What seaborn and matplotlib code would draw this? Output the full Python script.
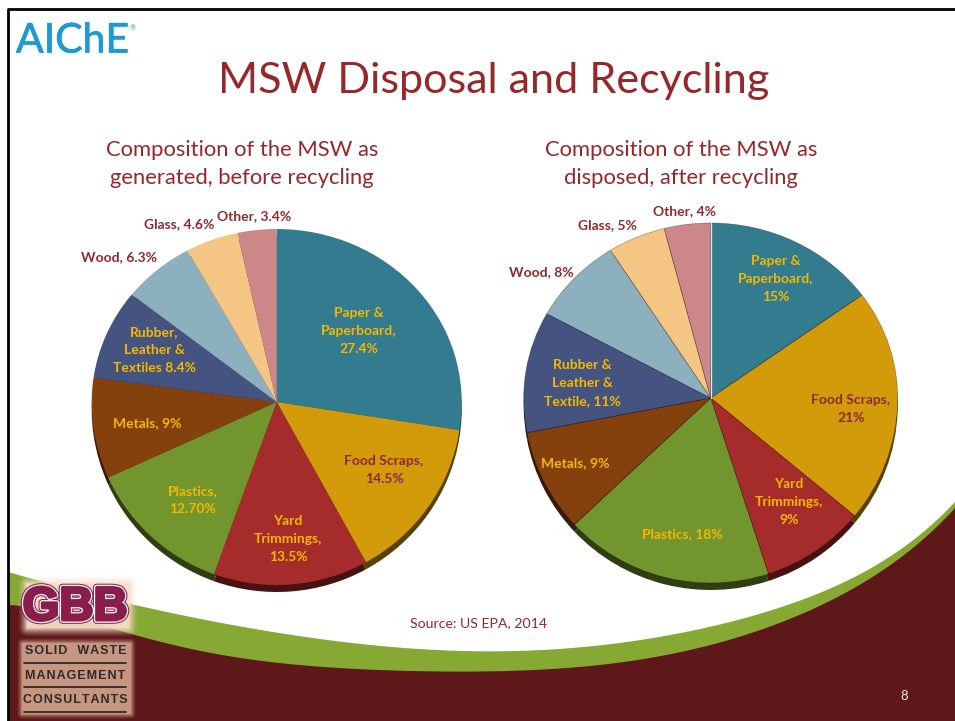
import numpy as np
import matplotlib
matplotlib.use("Agg")
import matplotlib.pyplot as plt
import matplotlib.patheffects as pe
from matplotlib.patches import Polygon
import seaborn as sns

# ---- data ----
categories = ["Paper", "Food Scraps", "Yard Trimmings", "Plastics", "Metals",
              "Rubber", "Wood", "Glass", "Other"]
before_values = [27.4, 14.5, 13.5, 12.7, 9.0, 8.4, 6.3, 4.6, 3.4]
after_values = [15, 21, 9, 18, 9, 11, 8, 5, 4]
before_labels = ["Paper &\nPaperboard,\n27.4%", "Food Scraps,\n14.5%", "Yard\nTrimmings,\n13.5%",
                 "Plastics,\n12.70%", "Metals, 9%", "Rubber,\nLeather &\nTextiles 8.4%",
                 "Wood, 6.3%", "Glass, 4.6%", "Other, 3.4%"]
after_labels = ["Paper &\nPaperboard,\n15%", "Food Scraps,\n21%", "Yard\nTrimmings,\n9%",
                "Plastics, 18%", "Metals, 9%", "Rubber &\nLeather &\nTextile, 11%",
                "Wood, 8%", "Glass, 5%", "Other, 4%"]
before_label_xy = [(359, 331), (384, 470), (288, 539), (193, 500), (147, 423), (154, 350),
                   (119, 257), (179, 224), (254, 216)]
after_label_xy = [(776, 279), (851, 409), (789, 502), (682, 534), (575, 463), (582, 383),
                  (541, 272), (607, 225), (684, 211)]
gold_or_red = ["gold", "red", "gold", "gold", "gold", "gold", "red", "red", "red"]

pal = sns.color_palette(["#337B8F", "#D39B0A", "#A62B2B", "#72952E", "#84410E",
                         "#44537F", "#8CB0BE", "#F4C583", "#CC8789"])
shadow_pal = [tuple(c * 0.42 for c in col) for col in pal]
RED = "#96272B"
GOLD = "#F4B800"
W, H = 955, 721
FONT = ["Lato", "DejaVu Sans"]

sns.set_theme(style="white")
plt.rcParams["font.family"] = FONT
fig = plt.figure(figsize=(W / 100, H / 100), dpi=100, facecolor="white")

# ---- slide background ----
bg = fig.add_axes([0, 0, 1, 1], zorder=0)
bg.axis("off")


def curve(points, deg=7):
    p = np.array(points, float)
    coef = np.polyfit((p[:, 0] - 480) / 480, p[:, 1], deg)
    x = np.arange(p[0, 0], p[-1, 0] + 1)
    return np.c_[x, np.polyval(coef, (x - 480) / 480)]


green_top = curve([(8, 572), (135, 605), (280, 633), (400, 648), (480, 651), (570, 648),
                   (655, 638), (738, 620), (805, 598), (860, 575), (902, 548), (955, 502)])
dark_top = curve([(8, 605), (135, 635), (280, 663), (380, 670), (480, 672), (570, 667),
                  (655, 657), (722, 643), (788, 619), (837, 597), (902, 557), (955, 508)])
bg.add_patch(Polygon(np.r_[green_top, [[955, 721], [8, 721]]], fc="#86A934", ec="none", zorder=1))
bg.add_patch(Polygon(np.r_[dark_top, [[955, 721], [8, 721]]], fc="#5F1819", ec="none", zorder=2))
bg.plot([7.5, 7.5, 955], [721, 8.5, 8.5], color="black", lw=2, zorder=3, solid_capstyle="butt")


def glow(x0, y0, x1, y1, color, blur, peak):
    """Soft-edged panel behind the logo."""
    xs, ys = np.arange(x0 - blur, x1 + blur), np.arange(y0 - blur, y1 + blur)
    dx = np.maximum(np.maximum(x0 - xs, xs - x1), 0)
    dy = np.maximum(np.maximum(y0 - ys, ys - y1), 0)
    a = np.clip(1 - np.hypot(*np.meshgrid(dx, dy)) / blur, 0, 1) ** 1.5 * peak
    img = np.zeros(a.shape + (4,))
    img[..., :3] = matplotlib.colors.to_rgb(color)
    img[..., 3] = a
    bg.imshow(img, extent=(xs[0], xs[-1], ys[-1], ys[0]), zorder=4, aspect="auto",
              interpolation="bilinear")


glow(27, 584, 128, 628, "#F8DCC6", 10, 0.95)
glow(22, 643, 130, 714, "#C69680", 6, 1.0)
bg.set_xlim(0, W)
bg.set_ylim(H, 0)

for lab_y, line_y, s in [(651, 662.5, "SOLID  WASTE"), (676, 687, "MANAGEMENT"), (700, 712, "CONSULTANTS")]:
    bg.text(75.5, lab_y, "\u200a".join(s), ha="center", va="center", fontsize=9, fontweight="bold",
            family=["Liberation Sans", "DejaVu Sans"], color="#2E2A2C", zorder=6)
    bg.plot([24, 126], [line_y, line_y], color="#2E2A2C", lw=1.3, zorder=6)
bg.text(75, 608, "GBB", ha="center", va="center", fontsize=34, fontweight="bold",
        family="Liberation Sans", color="#8B1D4B", zorder=6,
        path_effects=[pe.Stroke(linewidth=5.5, foreground="#8B1D4B"),
                      pe.Stroke(linewidth=4, foreground="white"),
                      pe.Stroke(linewidth=2.2, foreground="#8B1D4B"),
                      pe.Normal()])


# ---- pies ----
def draw_pie(values, cx, cy, rx, top, bottom, edge, drop):
    """Pie with apex at (cx, cy), horizontal radius rx, rim at pixel rows top/bottom."""
    ax = fig.add_axes([(cx - rx - 2) / W, 1 - (bottom + drop + 5) / H,
                       (2 * rx + 4) / W, (bottom + drop + 5 - top + 5) / H], zorder=1)
    ax.patch.set_alpha(0)
    for colors, off, props in [(shadow_pal, drop, dict(linewidth=0)),
                               (pal, 0, dict(linewidth=0.5 if edge else 0,
                                             edgecolor=(0, 0, 0, .35) if edge else "none"))]:
        wedges, _ = ax.pie(values, colors=colors, startangle=90, counterclock=False,
                           radius=rx, wedgeprops=props)
        for w in wedges:
            v = w.get_path().vertices
            v[:, 1] = np.where(v[:, 1] > 0, v[:, 1] * (cy - top) / rx,
                               v[:, 1] * (bottom - cy) / rx) - off
    if edge:
        ax.plot([0, 0], [0, cy - top], color="#E8E4E0", lw=0.9)
    ax.set_aspect("auto")
    ax.set_xlim(-rx - 2, rx + 2)
    ax.set_ylim(-(bottom - cy) - drop - 5, cy - top + 5)
    return ax


draw_pie(before_values, 276.7, 402, 185, 229, 585, False, 7)
draw_pie(after_values, 710.7, 398, 187, 223, 583, True, 7)

# ---- text overlay ----
ov = fig.add_axes([0, 0, 1, 1], zorder=2)
ov.set_xlim(0, W)
ov.set_ylim(H, 0)
ov.axis("off")
ov.patch.set_alpha(0)

for labels, xy in [(before_labels, before_label_xy), (after_labels, after_label_xy)]:
    for s, (x, y), c in zip(labels, xy, gold_or_red):
        ov.text(x, y, s, ha="center", va="center", fontsize=10, fontweight="bold",
                color=GOLD if c == "gold" else "#8E2A2D", linespacing=1.6)

ov.text(494, 81, "MSW Disposal and Recycling", ha="center", va="center", fontsize=31.1, color=RED)
for x, l1, l2 in [(242, "Composition of the MSW as", "generated, before recycling"),
                  (681, "Composition of the MSW as", "disposed, after recycling")]:
    ov.text(x, 149.5, l1, ha="center", va="center", fontsize=15.8, color=RED)
    ov.text(x, 178.5, l2, ha="center", va="center", fontsize=15.8, color=RED)
ov.text(478, 623, "Source: US EPA, 2014", ha="center", va="center", fontsize=10.2, color=RED)
ov.text(904, 696, "8", ha="center", va="center", fontsize=9.5, color="#F0E6E6")
ov.text(16, 41, "AIChE", ha="left", va="center", fontsize=29.5, color="#1B9AD6",
        path_effects=[pe.withStroke(linewidth=0.5, foreground="#1B9AD6")])
ov.text(133, 28, "®", ha="center", va="center", fontsize=5, color="#1B9AD6")

fig.savefig("out.png", dpi=100)
